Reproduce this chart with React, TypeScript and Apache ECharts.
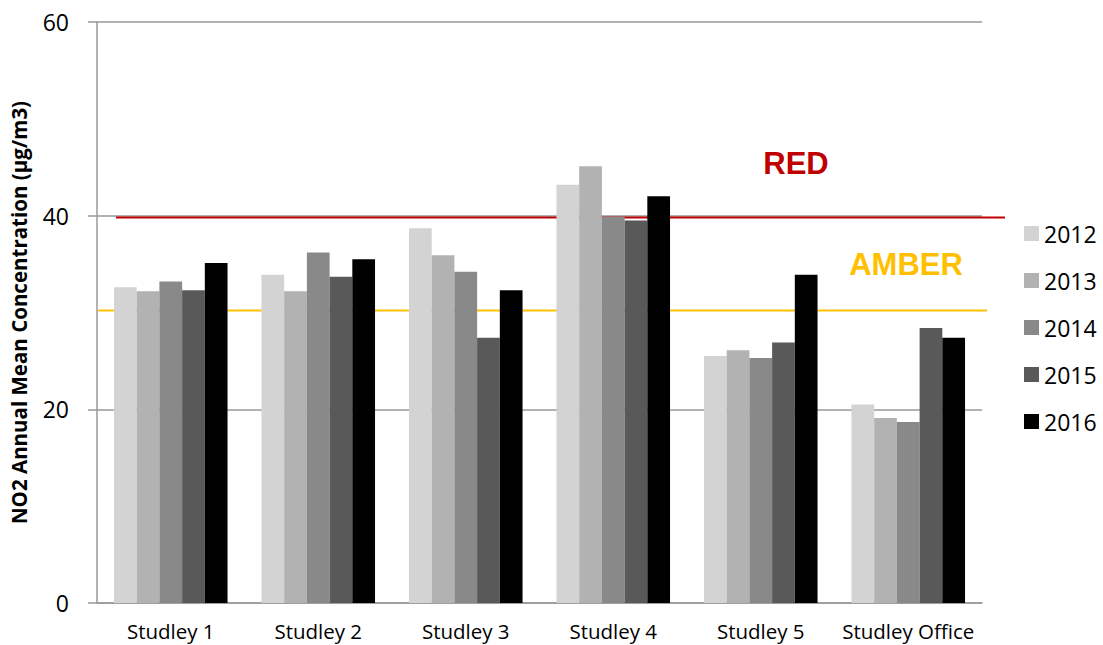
import React, { useEffect, useRef } from "react";
import * as echarts from "echarts";

const categories = ["Studley 1", "Studley 2", "Studley 3", "Studley 4", "Studley 5", "Studley Office"];
const years = ["2012", "2013", "2014", "2015", "2016"];
const colors = ["#d3d3d3", "#b2b2b2", "#898989", "#595959", "#000000"];
const v2012 = [32.6, 33.9, 38.7, 43.2, 25.5, 20.5];
const v2013 = [32.2, 32.2, 35.9, 45.1, 26.1, 19.1];
const v2014 = [33.2, 36.2, 34.2, 39.9, 25.3, 18.7];
const v2015 = [32.3, 33.7, 27.4, 39.5, 26.9, 28.4];
const v2016 = [35.1, 35.5, 32.3, 42.0, 33.9, 27.4];
const seriesValues = [v2012, v2013, v2014, v2015, v2016];
const redLevel = 39.8;
const amberLevel = 30.2;

const FONT = "'Open Sans', 'Liberation Sans', sans-serif";

export default function App() {
  const ref = useRef<HTMLDivElement>(null);
  useEffect(() => {
    if (!ref.current) return;
    const chart = echarts.init(ref.current, undefined, { renderer: "svg" });
    chart.setOption({
      animation: false,
      backgroundColor: "#ffffff",
      grid: { left: 97, right: 121, top: 22, bottom: 42, containLabel: false },
      legend: {
        orient: "vertical",
        left: 1019,
        top: 217,
        itemWidth: 15,
        itemHeight: 15,
        itemGap: 24,
        icon: "rect",
        textStyle: { fontFamily: FONT, fontSize: 23, color: "#000" },
        data: years,
      },
      xAxis: {
        type: "category",
        data: categories,
        axisLine: { lineStyle: { color: "#999", width: 1.5 } },
        axisTick: { length: 6, lineStyle: { color: "#999", width: 1.5 } },
        axisLabel: { fontFamily: FONT, fontSize: 20.5, color: "#000", margin: 17, interval: 0 },
      },
      yAxis: {
        type: "value",
        min: 0,
        max: 60,
        interval: 20,
        name: "NO2 Annual Mean Concentration (µg/m3)",
        nameLocation: "middle",
        nameGap: 68,
        nameTextStyle: { fontFamily: FONT, fontSize: 20.5, fontWeight: "bold", color: "#000" },
        axisLine: { show: true, lineStyle: { color: "#999", width: 1.5 } },
        axisTick: { show: true, length: 9, lineStyle: { color: "#999", width: 1.5 } },
        axisLabel: { fontFamily: FONT, fontSize: 23, color: "#000", margin: 28 },
        splitLine: { lineStyle: { color: "#999", width: 1.5 } },
      },
      series: years.map((y, i) => ({
        name: y,
        type: "bar",
        data: seriesValues[i],
        barGap: "0%",
        barCategoryGap: "23%",
        itemStyle: { color: colors[i] },
      })),
    });
    const yRed = chart.convertToPixel({ yAxisIndex: 0 }, redLevel) as number;
    const yAmber = chart.convertToPixel({ yAxisIndex: 0 }, amberLevel) as number;
    chart.setOption({
      graphic: [
        { type: "line", shape: { x1: 116, y1: yRed, x2: 1005, y2: yRed }, style: { stroke: "#c00000", lineWidth: 2 } },
        { type: "line", shape: { x1: 98, y1: yAmber, x2: 987, y2: yAmber }, style: { stroke: "#ffc000", lineWidth: 2 } },
        { type: "text", x: 796, y: 163, style: { text: "RED", fill: "#c00000", font: `bold 31px 'Liberation Sans', Arial, sans-serif`, textAlign: "center", textVerticalAlign: "middle" } },
        { type: "text", x: 906, y: 264, style: { text: "AMBER", fill: "#ffc000", font: `bold 31px 'Liberation Sans', Arial, sans-serif`, textAlign: "center", textVerticalAlign: "middle" } },
      ],
    });
    return () => chart.dispose();
  }, []);
  return <div ref={ref} style={{ width: 1103, height: 645, position: "absolute", left: 0, top: 0 }} />;
}
